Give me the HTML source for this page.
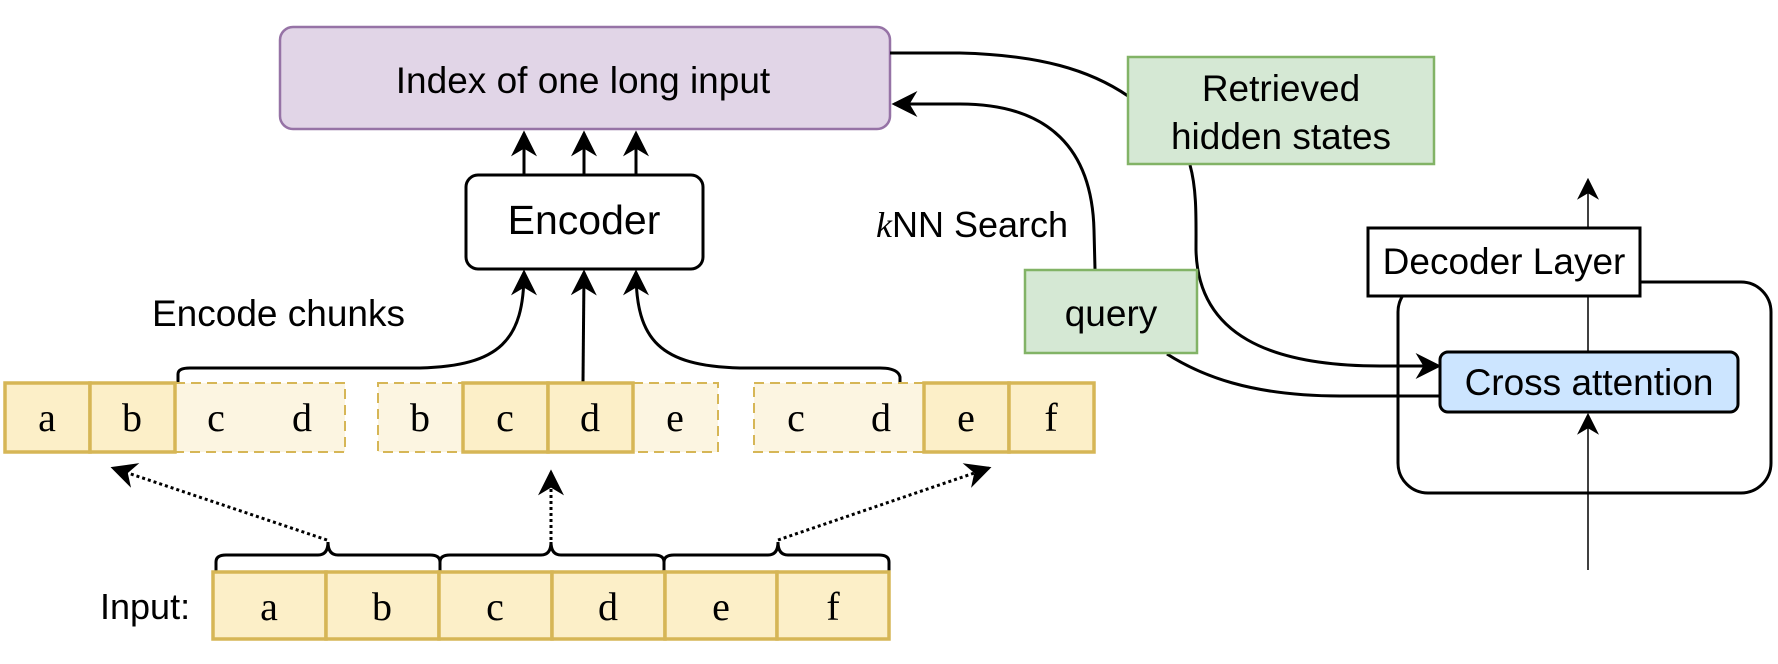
<!DOCTYPE html>
<html><head><meta charset="utf-8"><style>
html,body{margin:0;padding:0;background:#fff;}
svg{display:block;}
text{font-family:"Liberation Sans",sans-serif;fill:#000;}
.s{font-family:"Liberation Serif",serif;font-size:40px;}
</style></head><body>
<svg width="1778" height="664" viewBox="0 0 1778 664" xmlns="http://www.w3.org/2000/svg">
<defs>
<marker id="ab" viewBox="0 0 10 10" refX="9" refY="5" markerWidth="26" markerHeight="26" markerUnits="userSpaceOnUse" orient="auto">
<path d="M0,0 L10,5 L0,10 L3,5 z" fill="#000"/></marker>
<marker id="as" viewBox="0 0 10 10" refX="9" refY="5" markerWidth="22" markerHeight="22" markerUnits="userSpaceOnUse" orient="auto">
<path d="M0,0 L10,5 L0,10 L3,5 z" fill="#000"/></marker>
</defs>

<rect x="280" y="27" width="610" height="102" rx="13" fill="#e1d5e7" stroke="#9673a6" stroke-width="2.5"/>
<text x="583" y="93" font-size="37" text-anchor="middle">Index of one long input</text>

<g stroke="#000" stroke-width="3" fill="none">
<line x1="524" y1="175" x2="524" y2="133" marker-end="url(#ab)"/>
<line x1="584" y1="175" x2="584" y2="133" marker-end="url(#ab)"/>
<line x1="636" y1="175" x2="636" y2="133" marker-end="url(#ab)"/>
</g>

<rect x="466" y="175" width="237" height="94" rx="12" fill="#fff" stroke="#000" stroke-width="3"/>
<text x="584" y="234" font-size="41" text-anchor="middle">Encoder</text>

<text x="152" y="326" font-size="37">Encode chunks</text>

<g stroke="#000" stroke-width="3" fill="none">
<path d="M178,382 L178,374 Q178,368 190,368 L420,368 C500,366 524,340 524,272" marker-end="url(#ab)"/>
<path d="M583,382 L584,272" marker-end="url(#ab)"/>
<path d="M900,382 L900,377 Q898,368 880,368 L740,368 C660,366 636,340 636,272" marker-end="url(#ab)"/>
</g>

<g stroke="#d6b656" stroke-width="2" stroke-dasharray="10,6" fill="#fcf5e1">
<rect x="175" y="383" width="170" height="69"/>
<rect x="378" y="383" width="85" height="69"/>
<rect x="633" y="383" width="85" height="69"/>
<rect x="754" y="383" width="170" height="69"/>
</g>
<g stroke="#d6b656" stroke-width="3.5" fill="#fcefc8">
<rect x="5" y="383" width="85" height="69"/><rect x="90" y="383" width="85" height="69"/>
<rect x="463" y="383" width="85" height="69"/><rect x="548" y="383" width="85" height="69"/>
<rect x="924" y="383" width="85" height="69"/><rect x="1009" y="383" width="85" height="69"/>
</g>
<g text-anchor="middle">
<text class="s" x="47" y="431">a</text><text class="s" x="132" y="431">b</text>
<text class="s" x="216" y="431">c</text><text class="s" x="302" y="431">d</text>
<text class="s" x="420" y="431">b</text><text class="s" x="505" y="431">c</text>
<text class="s" x="590" y="431">d</text><text class="s" x="675" y="431">e</text>
<text class="s" x="796" y="431">c</text><text class="s" x="881" y="431">d</text>
<text class="s" x="966" y="431">e</text><text class="s" x="1051" y="431">f</text>
</g>

<g stroke="#000" stroke-width="3" stroke-dasharray="3,3" fill="none">
<line x1="327" y1="540" x2="113" y2="468" marker-end="url(#ab)"/>
<line x1="551" y1="540" x2="551" y2="472" marker-end="url(#ab)"/>
<line x1="778" y1="540" x2="989" y2="468" marker-end="url(#ab)"/>
</g>

<g stroke="#000" stroke-width="3" fill="none">
<path d="M216,572 L216,562 Q216,555 226,555 L318,555 Q328,555 328,542 Q328,555 338,555 L430,555 Q440,555 440,562 L440,572"/>
<path d="M440,562 Q440,555 450,555 L541,555 Q551,555 551,542 Q551,555 561,555 L654,555 Q664,555 664,562 L664,572"/>
<path d="M664,562 Q664,555 674,555 L768,555 Q778,555 778,542 Q778,555 788,555 L879,555 Q889,555 889,562 L889,572"/>
</g>

<text x="100" y="619" font-size="36">Input:</text>
<g stroke="#d6b656" stroke-width="3.5" fill="#fcefc8">
<rect x="213" y="572" width="113" height="67"/><rect x="326" y="572" width="113" height="67"/>
<rect x="439" y="572" width="113" height="67"/><rect x="552" y="572" width="113" height="67"/>
<rect x="665" y="572" width="112" height="67"/><rect x="777" y="572" width="112" height="67"/>
</g>
<text class="s" x="269" y="620" text-anchor="middle">a</text>
<text class="s" x="382" y="620" text-anchor="middle">b</text>
<text class="s" x="495" y="620" text-anchor="middle">c</text>
<text class="s" x="608" y="620" text-anchor="middle">d</text>
<text class="s" x="721" y="620" text-anchor="middle">e</text>
<text class="s" x="833" y="620" text-anchor="middle">f</text>

<g stroke="#000" stroke-width="3" fill="none">
<path d="M890,53 L960,53 C1040,55 1090,70 1128,96"/>
<path d="M1095,269 L1094,230 C1092,150 1050,104 960,104 L894,104" marker-end="url(#ab)"/>
<path d="M1190,165 C1197,190 1196,220 1196,250 C1198,335 1270,366 1380,366 L1439,366" marker-end="url(#ab)"/>
<path d="M1167,354 C1200,375 1250,396 1340,396 L1441,396"/>
</g>

<rect x="1128" y="57" width="306" height="107" fill="#d5e8d4" stroke="#82b366" stroke-width="2.5"/>
<text x="1281" y="101" font-size="37" text-anchor="middle">Retrieved</text>
<text x="1281" y="149" font-size="37" text-anchor="middle">hidden states</text>

<text x="876" y="237" font-size="36"><tspan font-family="Liberation Serif" font-style="italic">k</tspan>NN Search</text>

<rect x="1025" y="270" width="172" height="83" fill="#d5e8d4" stroke="#82b366" stroke-width="2.5"/>
<text x="1111" y="326" font-size="37" text-anchor="middle">query</text>

<rect x="1398" y="282" width="373" height="211" rx="30" fill="none" stroke="#000" stroke-width="3"/>
<line x1="1588" y1="570" x2="1588" y2="415" stroke="#000" stroke-width="1.5" marker-end="url(#as)"/>
<line x1="1588" y1="352" x2="1588" y2="180" stroke="#000" stroke-width="1.5" marker-end="url(#as)"/>
<rect x="1368" y="228" width="272" height="68" fill="#fff" stroke="#000" stroke-width="3"/>
<text x="1504" y="274" font-size="37" text-anchor="middle">Decoder Layer</text>
<rect x="1440" y="352" width="298" height="60" rx="8" fill="#cce5ff" stroke="#000" stroke-width="3"/>
<text x="1589" y="395" font-size="37" text-anchor="middle">Cross attention</text>
</svg>
</body></html>
